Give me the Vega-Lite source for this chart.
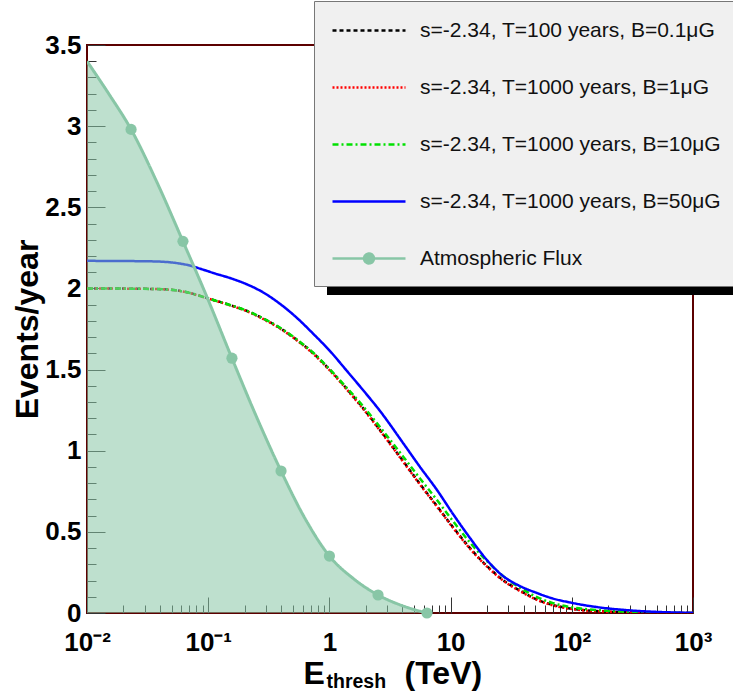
{
  "$schema": "https://vega.github.io/schema/vega-lite/v6.json",
  "width": 606,
  "height": 568,
  "autosize": {"type": "none"},
  "padding": {"left": 87, "top": 45, "right": 40, "bottom": 79},
  "background": "white",
  "config": {
    "view": {"stroke": "#5c0000", "strokeWidth": 2},
    "font": "Liberation Sans"
  },
  "resolve": {"axis": {"x": "independent"}},
  "datasets": {
    "curves": [
      {"series": "s=-2.34, T=100 years, B=0.1μG", "E": 0.01, "N": 2.0},
      {"series": "s=-2.34, T=100 years, B=0.1μG", "E": 0.0331, "N": 1.997},
      {"series": "s=-2.34, T=100 years, B=0.1μG", "E": 0.0484, "N": 1.992},
      {"series": "s=-2.34, T=100 years, B=0.1μG", "E": 0.0585, "N": 1.985},
      {"series": "s=-2.34, T=100 years, B=0.1μG", "E": 0.0708, "N": 1.972},
      {"series": "s=-2.34, T=100 years, B=0.1μG", "E": 0.0855, "N": 1.954},
      {"series": "s=-2.34, T=100 years, B=0.1μG", "E": 0.1138, "N": 1.926},
      {"series": "s=-2.34, T=100 years, B=0.1μG", "E": 0.1513, "N": 1.898},
      {"series": "s=-2.34, T=100 years, B=0.1μG", "E": 0.209, "N": 1.861},
      {"series": "s=-2.34, T=100 years, B=0.1μG", "E": 0.2833, "N": 1.815},
      {"series": "s=-2.34, T=100 years, B=0.1μG", "E": 0.3913, "N": 1.756},
      {"series": "s=-2.34, T=100 years, B=0.1μG", "E": 0.5404, "N": 1.682},
      {"series": "s=-2.34, T=100 years, B=0.1μG", "E": 0.7322, "N": 1.602},
      {"series": "s=-2.34, T=100 years, B=0.1μG", "E": 1.0116, "N": 1.497},
      {"series": "s=-2.34, T=100 years, B=0.1μG", "E": 1.397, "N": 1.38},
      {"series": "s=-2.34, T=100 years, B=0.1μG", "E": 1.893, "N": 1.263},
      {"series": "s=-2.34, T=100 years, B=0.1μG", "E": 2.615, "N": 1.128},
      {"series": "s=-2.34, T=100 years, B=0.1μG", "E": 4.049, "N": 0.937},
      {"series": "s=-2.34, T=100 years, B=0.1μG", "E": 5.591, "N": 0.795},
      {"series": "s=-2.34, T=100 years, B=0.1μG", "E": 7.722, "N": 0.659},
      {"series": "s=-2.34, T=100 years, B=0.1μG", "E": 10.47, "N": 0.529},
      {"series": "s=-2.34, T=100 years, B=0.1μG", "E": 14.46, "N": 0.4},
      {"series": "s=-2.34, T=100 years, B=0.1μG", "E": 19.97, "N": 0.289},
      {"series": "s=-2.34, T=100 years, B=0.1μG", "E": 27.06, "N": 0.203},
      {"series": "s=-2.34, T=100 years, B=0.1μG", "E": 37.36, "N": 0.138},
      {"series": "s=-2.34, T=100 years, B=0.1μG", "E": 51.63, "N": 0.083},
      {"series": "s=-2.34, T=100 years, B=0.1μG", "E": 69.97, "N": 0.049},
      {"series": "s=-2.34, T=100 years, B=0.1μG", "E": 96.6, "N": 0.028},
      {"series": "s=-2.34, T=100 years, B=0.1μG", "E": 170.9, "N": 0.011},
      {"series": "s=-2.34, T=100 years, B=0.1μG", "E": 302, "N": 0.004},
      {"series": "s=-2.34, T=100 years, B=0.1μG", "E": 1000, "N": 0.0},

      {"series": "s=-2.34, T=1000 years, B=1μG", "E": 0.01, "N": 2.0},
      {"series": "s=-2.34, T=1000 years, B=1μG", "E": 0.0331, "N": 1.997},
      {"series": "s=-2.34, T=1000 years, B=1μG", "E": 0.0484, "N": 1.992},
      {"series": "s=-2.34, T=1000 years, B=1μG", "E": 0.0585, "N": 1.984},
      {"series": "s=-2.34, T=1000 years, B=1μG", "E": 0.0708, "N": 1.971},
      {"series": "s=-2.34, T=1000 years, B=1μG", "E": 0.0855, "N": 1.953},
      {"series": "s=-2.34, T=1000 years, B=1μG", "E": 0.1138, "N": 1.925},
      {"series": "s=-2.34, T=1000 years, B=1μG", "E": 0.1513, "N": 1.896},
      {"series": "s=-2.34, T=1000 years, B=1μG", "E": 0.209, "N": 1.859},
      {"series": "s=-2.34, T=1000 years, B=1μG", "E": 0.2833, "N": 1.812},
      {"series": "s=-2.34, T=1000 years, B=1μG", "E": 0.3913, "N": 1.753},
      {"series": "s=-2.34, T=1000 years, B=1μG", "E": 0.5404, "N": 1.679},
      {"series": "s=-2.34, T=1000 years, B=1μG", "E": 0.7322, "N": 1.598},
      {"series": "s=-2.34, T=1000 years, B=1μG", "E": 1.0116, "N": 1.493},
      {"series": "s=-2.34, T=1000 years, B=1μG", "E": 1.397, "N": 1.376},
      {"series": "s=-2.34, T=1000 years, B=1μG", "E": 1.893, "N": 1.259},
      {"series": "s=-2.34, T=1000 years, B=1μG", "E": 2.615, "N": 1.124},
      {"series": "s=-2.34, T=1000 years, B=1μG", "E": 4.049, "N": 0.933},
      {"series": "s=-2.34, T=1000 years, B=1μG", "E": 5.591, "N": 0.791},
      {"series": "s=-2.34, T=1000 years, B=1μG", "E": 7.722, "N": 0.655},
      {"series": "s=-2.34, T=1000 years, B=1μG", "E": 10.47, "N": 0.525},
      {"series": "s=-2.34, T=1000 years, B=1μG", "E": 14.46, "N": 0.396},
      {"series": "s=-2.34, T=1000 years, B=1μG", "E": 19.97, "N": 0.286},
      {"series": "s=-2.34, T=1000 years, B=1μG", "E": 27.06, "N": 0.2},
      {"series": "s=-2.34, T=1000 years, B=1μG", "E": 37.36, "N": 0.135},
      {"series": "s=-2.34, T=1000 years, B=1μG", "E": 51.63, "N": 0.081},
      {"series": "s=-2.34, T=1000 years, B=1μG", "E": 69.97, "N": 0.047},
      {"series": "s=-2.34, T=1000 years, B=1μG", "E": 96.6, "N": 0.026},
      {"series": "s=-2.34, T=1000 years, B=1μG", "E": 170.9, "N": 0.01},
      {"series": "s=-2.34, T=1000 years, B=1μG", "E": 302, "N": 0.004},
      {"series": "s=-2.34, T=1000 years, B=1μG", "E": 1000, "N": 0.0},

      {"series": "s=-2.34, T=1000 years, B=10μG", "E": 0.01, "N": 2.0},
      {"series": "s=-2.34, T=1000 years, B=10μG", "E": 0.0331, "N": 1.997},
      {"series": "s=-2.34, T=1000 years, B=10μG", "E": 0.0484, "N": 1.992},
      {"series": "s=-2.34, T=1000 years, B=10μG", "E": 0.0585, "N": 1.985},
      {"series": "s=-2.34, T=1000 years, B=10μG", "E": 0.0708, "N": 1.972},
      {"series": "s=-2.34, T=1000 years, B=10μG", "E": 0.0855, "N": 1.954},
      {"series": "s=-2.34, T=1000 years, B=10μG", "E": 0.1138, "N": 1.926},
      {"series": "s=-2.34, T=1000 years, B=10μG", "E": 0.1513, "N": 1.898},
      {"series": "s=-2.34, T=1000 years, B=10μG", "E": 0.209, "N": 1.862},
      {"series": "s=-2.34, T=1000 years, B=10μG", "E": 0.2833, "N": 1.816},
      {"series": "s=-2.34, T=1000 years, B=10μG", "E": 0.3913, "N": 1.758},
      {"series": "s=-2.34, T=1000 years, B=10μG", "E": 0.5404, "N": 1.685},
      {"series": "s=-2.34, T=1000 years, B=10μG", "E": 0.7322, "N": 1.605},
      {"series": "s=-2.34, T=1000 years, B=10μG", "E": 1.0116, "N": 1.5},
      {"series": "s=-2.34, T=1000 years, B=10μG", "E": 1.397, "N": 1.386},
      {"series": "s=-2.34, T=1000 years, B=10μG", "E": 1.893, "N": 1.275},
      {"series": "s=-2.34, T=1000 years, B=10μG", "E": 2.615, "N": 1.146},
      {"series": "s=-2.34, T=1000 years, B=10μG", "E": 4.049, "N": 0.965},
      {"series": "s=-2.34, T=1000 years, B=10μG", "E": 5.591, "N": 0.829},
      {"series": "s=-2.34, T=1000 years, B=10μG", "E": 7.722, "N": 0.696},
      {"series": "s=-2.34, T=1000 years, B=10μG", "E": 10.47, "N": 0.566},
      {"series": "s=-2.34, T=1000 years, B=10μG", "E": 14.46, "N": 0.434},
      {"series": "s=-2.34, T=1000 years, B=10μG", "E": 19.97, "N": 0.32},
      {"series": "s=-2.34, T=1000 years, B=10μG", "E": 27.06, "N": 0.228},
      {"series": "s=-2.34, T=1000 years, B=10μG", "E": 37.36, "N": 0.156},
      {"series": "s=-2.34, T=1000 years, B=10μG", "E": 51.63, "N": 0.098},
      {"series": "s=-2.34, T=1000 years, B=10μG", "E": 69.97, "N": 0.061},
      {"series": "s=-2.34, T=1000 years, B=10μG", "E": 96.6, "N": 0.037},
      {"series": "s=-2.34, T=1000 years, B=10μG", "E": 170.9, "N": 0.017},
      {"series": "s=-2.34, T=1000 years, B=10μG", "E": 302, "N": 0.007},
      {"series": "s=-2.34, T=1000 years, B=10μG", "E": 1000, "N": 0.0},

      {"series": "s=-2.34, T=1000 years, B=50μG", "E": 0.01, "N": 2.17},
      {"series": "s=-2.34, T=1000 years, B=50μG", "E": 0.0331, "N": 2.167},
      {"series": "s=-2.34, T=1000 years, B=50μG", "E": 0.0484, "N": 2.161},
      {"series": "s=-2.34, T=1000 years, B=50μG", "E": 0.0585, "N": 2.153},
      {"series": "s=-2.34, T=1000 years, B=50μG", "E": 0.0708, "N": 2.141},
      {"series": "s=-2.34, T=1000 years, B=50μG", "E": 0.0855, "N": 2.122},
      {"series": "s=-2.34, T=1000 years, B=50μG", "E": 0.1138, "N": 2.092},
      {"series": "s=-2.34, T=1000 years, B=50μG", "E": 0.1513, "N": 2.064},
      {"series": "s=-2.34, T=1000 years, B=50μG", "E": 0.209, "N": 2.025},
      {"series": "s=-2.34, T=1000 years, B=50μG", "E": 0.2833, "N": 1.976},
      {"series": "s=-2.34, T=1000 years, B=50μG", "E": 0.3913, "N": 1.905},
      {"series": "s=-2.34, T=1000 years, B=50μG", "E": 0.5404, "N": 1.818},
      {"series": "s=-2.34, T=1000 years, B=50μG", "E": 0.7322, "N": 1.722},
      {"series": "s=-2.34, T=1000 years, B=50μG", "E": 1.0116, "N": 1.614},
      {"series": "s=-2.34, T=1000 years, B=50μG", "E": 1.397, "N": 1.491},
      {"series": "s=-2.34, T=1000 years, B=50μG", "E": 1.893, "N": 1.374},
      {"series": "s=-2.34, T=1000 years, B=50μG", "E": 2.615, "N": 1.245},
      {"series": "s=-2.34, T=1000 years, B=50μG", "E": 4.049, "N": 1.048},
      {"series": "s=-2.34, T=1000 years, B=50μG", "E": 5.591, "N": 0.9},
      {"series": "s=-2.34, T=1000 years, B=50μG", "E": 7.722, "N": 0.758},
      {"series": "s=-2.34, T=1000 years, B=50μG", "E": 10.47, "N": 0.61},
      {"series": "s=-2.34, T=1000 years, B=50μG", "E": 14.46, "N": 0.462},
      {"series": "s=-2.34, T=1000 years, B=50μG", "E": 19.97, "N": 0.326},
      {"series": "s=-2.34, T=1000 years, B=50μG", "E": 27.06, "N": 0.228},
      {"series": "s=-2.34, T=1000 years, B=50μG", "E": 37.36, "N": 0.166},
      {"series": "s=-2.34, T=1000 years, B=50μG", "E": 51.63, "N": 0.123},
      {"series": "s=-2.34, T=1000 years, B=50μG", "E": 69.97, "N": 0.089},
      {"series": "s=-2.34, T=1000 years, B=50μG", "E": 96.6, "N": 0.065},
      {"series": "s=-2.34, T=1000 years, B=50μG", "E": 170.9, "N": 0.034},
      {"series": "s=-2.34, T=1000 years, B=50μG", "E": 302, "N": 0.016},
      {"series": "s=-2.34, T=1000 years, B=50μG", "E": 534, "N": 0.006},
      {"series": "s=-2.34, T=1000 years, B=50μG", "E": 1000, "N": 0.001},

      {"series": "Atmospheric Flux", "E": 0.01, "N": 3.40},
      {"series": "Atmospheric Flux", "E": 0.0151, "N": 3.20},
      {"series": "Atmospheric Flux", "E": 0.0231, "N": 2.98},
      {"series": "Atmospheric Flux", "E": 0.038, "N": 2.65},
      {"series": "Atmospheric Flux", "E": 0.0619, "N": 2.29},
      {"series": "Atmospheric Flux", "E": 0.0986, "N": 1.94},
      {"series": "Atmospheric Flux", "E": 0.157, "N": 1.57},
      {"series": "Atmospheric Flux", "E": 0.25, "N": 1.21},
      {"series": "Atmospheric Flux", "E": 0.399, "N": 0.875},
      {"series": "Atmospheric Flux", "E": 0.632, "N": 0.58},
      {"series": "Atmospheric Flux", "E": 1.0, "N": 0.351},
      {"series": "Atmospheric Flux", "E": 1.59, "N": 0.21},
      {"series": "Atmospheric Flux", "E": 2.52, "N": 0.111},
      {"series": "Atmospheric Flux", "E": 4.0, "N": 0.045},
      {"series": "Atmospheric Flux", "E": 6.38, "N": 0.0}
    ],
    "markers": [
      {"E": 0.0231, "N": 2.98},
      {"E": 0.0619, "N": 2.29},
      {"E": 0.157, "N": 1.57},
      {"E": 0.399, "N": 0.875},
      {"E": 1.0, "N": 0.351},
      {"E": 2.52, "N": 0.111},
      {"E": 6.38, "N": 0.0}
    ]
  },
  "encoding": {
    "y": {
      "field": "N", "type": "quantitative",
      "scale": {"domain": [0, 3.5], "nice": false},
      "axis": {
        "values": [0,0.1,0.2,0.3,0.4,0.5,0.6,0.7,0.8,0.9,1,1.1,1.2,1.3,1.4,1.5,1.6,1.7,1.8,1.9,2,2.1,2.2,2.3,2.4,2.5,2.6,2.7,2.8,2.9,3,3.1,3.2,3.3,3.4,3.5],
        "labelExpr": "abs(datum.value*2 - round(datum.value*2)) < 1e-6 ? format(datum.value, '~g') : ''",
        "tickSize": {"condition": {"test": "abs(datum.value*2 - round(datum.value*2)) < 1e-6", "value": -18}, "value": -9},
        "tickColor": "#333333",
        "tickWidth": 1,
        "labelPadding": 24,
        "labelFont": "Liberation Sans",
        "labelFontWeight": "bold",
        "labelFontSize": 26,
        "labelColor": "black",
        "labelFlush": false,
        "labelOverlap": false,
        "domain": false,
        "grid": false,
        "title": "Events/year",
        "titleFont": "Liberation Sans",
        "titleFontSize": 32,
        "titleFontWeight": "bold",
        "titleColor": "black",
        "titlePadding": 0
      }
    }
  },
  "layer": [
    {
      "data": {"name": "curves"},
      "transform": [{"filter": "datum.series !== 'Atmospheric Flux'"}],
      "mark": {"type": "line", "strokeWidth": 2.5, "clip": true, "interpolate": "monotone"},
      "encoding": {
        "x": {
          "field": "E", "type": "quantitative",
          "scale": {"type": "log", "domain": [0.01, 1000], "nice": false},
          "axis": {
            "orient": "bottom",
            "values": [0.01,0.02,0.03,0.04,0.05,0.06,0.07,0.08,0.09,0.1,0.2,0.3,0.4,0.5,0.6,0.7,0.8,0.9,1,2,3,4,5,6,7,8,9,10,20,30,40,50,60,70,80,90,100,200,300,400,500,600,700,800,900,1000],
            "labelExpr": "indexof([0.01,0.1,1,10,100,1000], datum.value) < 0 ? '' : ['10⁻²','10⁻¹','1','10','10²','10³'][indexof([0.01,0.1,1,10,100,1000], datum.value)]",
            "tickSize": {"condition": {"test": "indexof([0.01,0.1,1,10,100,1000], datum.value) >= 0", "value": -16}, "value": -8},
            "tickColor": "#333333",
            "tickWidth": 1,
            "labelPadding": 32,
            "labelFont": "Liberation Sans",
            "labelFontWeight": "bold",
            "labelFontSize": 26,
            "labelColor": "black",
            "labelFlush": false,
            "labelOverlap": false,
            "domain": false,
            "grid": false,
            "title": "E",
            "titleFont": "Liberation Sans",
            "titleFontSize": 32,
            "titleFontWeight": "bold",
            "titleColor": "black",
            "titleAlign": "left",
            "titleBaseline": "alphabetic",
            "titleX": 216,
            "titleY": 70
          }
        },
        "color": {
          "field": "series", "type": "nominal",
          "scale": {
            "domain": ["s=-2.34, T=100 years, B=0.1μG", "s=-2.34, T=1000 years, B=1μG", "s=-2.34, T=1000 years, B=10μG", "s=-2.34, T=1000 years, B=50μG", "Atmospheric Flux"],
            "range": ["#000000", "#ff0000", "#00e000", "#0000ff", "#88c6a6"]
          },
          "legend": {
            "title": null, "orient": "none", "legendX": 227, "legendY": -44,
            "fillColor": "#f0f0f0", "strokeColor": "#777777", "padding": 17,
            "symbolSize": 484, "symbolStrokeWidth": 2.5,
            "labelFont": "Liberation Sans", "labelFontSize": 21, "labelColor": "#111111",
            "labelOffset": 64, "rowPadding": 34, "labelLimit": 600
          }
        },
        "strokeDash": {
          "field": "series", "type": "nominal",
          "scale": {
            "domain": ["s=-2.34, T=100 years, B=0.1μG", "s=-2.34, T=1000 years, B=1μG", "s=-2.34, T=1000 years, B=10μG", "s=-2.34, T=1000 years, B=50μG", "Atmospheric Flux"],
            "range": [[4, 3], [2, 2], [6, 3, 2, 3], [1, 0], [1, 0]]
          },
          "legend": {
            "title": null, "orient": "none", "legendX": 227, "legendY": -44,
            "fillColor": "#f0f0f0", "strokeColor": "#777777", "padding": 17,
            "symbolSize": 484, "symbolStrokeWidth": 2.5,
            "labelFont": "Liberation Sans", "labelFontSize": 21, "labelColor": "#111111",
            "labelOffset": 64, "rowPadding": 34, "labelLimit": 600
          }
        }
      }
    },
    {
      "data": {"name": "curves"},
      "transform": [{"filter": "datum.series === 'Atmospheric Flux'"}],
      "mark": {"type": "area", "color": "#88c6a6", "opacity": 0.55, "clip": true, "interpolate": "monotone"},
      "encoding": {
        "x": {
          "field": "E", "type": "quantitative",
          "scale": {"type": "log", "domain": [0.01, 1000], "nice": false},
          "axis": {
            "orient": "bottom",
            "labels": false, "ticks": false, "domain": false, "grid": false,
            "title": "thresh",
            "titleFont": "Liberation Sans",
            "titleFontSize": 19.5,
            "titleFontWeight": "bold",
            "titleColor": "black",
            "titleAlign": "left",
            "titleBaseline": "alphabetic",
            "titleX": 239,
            "titleY": 74
          }
        }
      }
    },
    {
      "data": {"name": "curves"},
      "transform": [{"filter": "datum.series === 'Atmospheric Flux'"}],
      "mark": {"type": "line", "strokeWidth": 3, "clip": true, "interpolate": "monotone"},
      "encoding": {
        "x": {
          "field": "E", "type": "quantitative",
          "scale": {"type": "log", "domain": [0.01, 1000], "nice": false},
          "axis": {
            "orient": "bottom",
            "labels": false, "ticks": false, "domain": false, "grid": false,
            "title": "(TeV)",
            "titleFont": "Liberation Sans",
            "titleFontSize": 32,
            "titleFontWeight": "bold",
            "titleColor": "black",
            "titleAlign": "left",
            "titleBaseline": "alphabetic",
            "titleX": 317,
            "titleY": 70
          }
        },
        "color": {"field": "series", "type": "nominal", "legend": {
            "title": null, "orient": "none", "legendX": 227, "legendY": -44,
            "fillColor": "#f0f0f0", "strokeColor": "#777777", "padding": 17,
            "symbolSize": 484, "symbolStrokeWidth": 2.5,
            "labelFont": "Liberation Sans", "labelFontSize": 21, "labelColor": "#111111",
            "labelOffset": 64, "rowPadding": 34, "labelLimit": 600
          }},
        "strokeDash": {"field": "series", "type": "nominal", "legend": {
            "title": null, "orient": "none", "legendX": 227, "legendY": -44,
            "fillColor": "#f0f0f0", "strokeColor": "#777777", "padding": 17,
            "symbolSize": 484, "symbolStrokeWidth": 2.5,
            "labelFont": "Liberation Sans", "labelFontSize": 21, "labelColor": "#111111",
            "labelOffset": 64, "rowPadding": 34, "labelLimit": 600
          }}
      }
    },
    {
      "data": {"name": "markers"},
      "mark": {"type": "point", "filled": true, "size": 125, "color": "#88c6a6", "opacity": 1},
      "encoding": {
        "x": {
          "field": "E", "type": "quantitative",
          "scale": {"type": "log", "domain": [0.01, 1000], "nice": false},
          "axis": null
        }
      }
    },
    {
      "data": {"values": []},
      "mark": {"type": "point", "filled": true, "opacity": 1},
      "encoding": {
        "y": null,
        "color": {"field": "series", "type": "nominal", "legend": {
            "title": null, "orient": "none", "legendX": 227, "legendY": -44,
            "fillColor": "#f0f0f0", "strokeColor": "#777777", "padding": 17,
            "symbolSize": 484, "symbolStrokeWidth": 2.5,
            "labelFont": "Liberation Sans", "labelFontSize": 21, "labelColor": "#111111",
            "labelOffset": 64, "rowPadding": 34, "labelLimit": 600
          }},
        "shape": {
          "field": "series", "type": "nominal",
          "scale": {
            "domain": ["s=-2.34, T=100 years, B=0.1μG", "s=-2.34, T=1000 years, B=1μG", "s=-2.34, T=1000 years, B=10μG", "s=-2.34, T=1000 years, B=50μG", "Atmospheric Flux"],
            "range": ["M-1,0H5.636", "M-1,0H5.636", "M-1,0H5.636", "M-1,0H5.636", "M-1,0H5.636M1.868,0A0.45,0.45,0,1,1,2.768,0A0.45,0.45,0,1,1,1.868,0Z"]
          },
          "legend": {
            "title": null, "orient": "none", "legendX": 227, "legendY": -44,
            "fillColor": "#f0f0f0", "strokeColor": "#777777", "padding": 17,
            "symbolSize": 484, "symbolStrokeWidth": 2.5,
            "labelFont": "Liberation Sans", "labelFontSize": 21, "labelColor": "#111111",
            "labelOffset": 64, "rowPadding": 34, "labelLimit": 600
          }
        }
      }
    },
    {
      "data": {"values": []},
      "mark": {"type": "point", "filled": true, "opacity": 1},
      "encoding": {
        "y": null,
        "fill": {
          "field": "shade", "type": "quantitative",
          "scale": {"domain": [0, 1], "range": ["#000000", "#000000"]},
          "legend": {
            "title": null, "orient": "none", "legendX": 240, "legendY": 242,
            "direction": "horizontal", "gradientLength": 420, "gradientThickness": 8,
            "gradientStrokeWidth": 0, "padding": 0, "labelOpacity": 0, "labelFontSize": 1,
            "labelExpr": "''", "tickCount": 1
          }
        }
      }
    }
  ]
}
